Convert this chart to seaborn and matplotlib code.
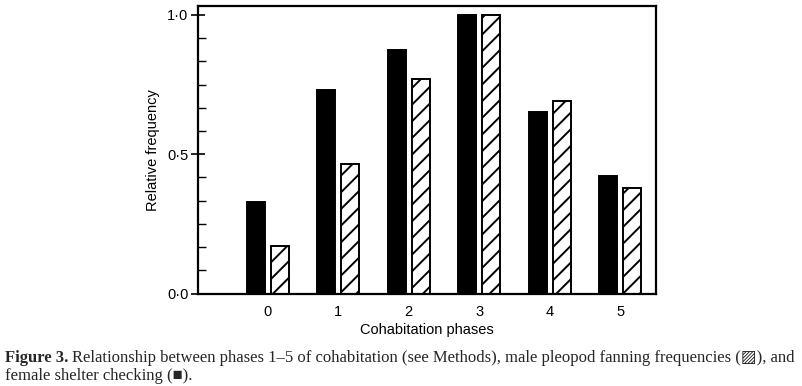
import matplotlib
matplotlib.use("Agg")
import matplotlib.pyplot as plt
import seaborn as sns
import pandas as pd
from matplotlib.ticker import MultipleLocator, FixedLocator, FixedFormatter

phases = ["0", "1", "2", "3", "4", "5"]
female_shelter_checking = [0.33, 0.73, 0.875, 1.0, 0.65, 0.42]
male_pleopod_fanning = [0.17, 0.465, 0.77, 1.0, 0.69, 0.38]
series_names = ["Female shelter checking", "Male pleopod fanning"]
ytick_values = [0.0, 0.5, 1.0]
ytick_labels = ["0\u00b70", "0\u00b75", "1\u00b70"]

df = pd.DataFrame({
    "phase": phases * 2,
    "freq": female_shelter_checking + male_pleopod_fanning,
    "series": [series_names[0]] * len(phases) + [series_names[1]] * len(phases),
})

sns.set_theme(style="white")
plt.rcParams["font.family"] = ["Liberation Sans", "DejaVu Sans"]
plt.rcParams["hatch.linewidth"] = 1.4
plt.rcParams["hatch.color"] = "black"

fig = plt.figure(figsize=(8.03, 3.86), dpi=100)
ax = fig.add_axes([198 / 803, 1 - 293.5 / 386, (656 - 198) / 803, (293.5 - 6) / 386])

sns.barplot(data=df, x="phase", y="freq", hue="series", order=phases,
            hue_order=series_names, palette=["black", "white"],
            width=0.68, gap=0.25, edgecolor="black", linewidth=1.4,
            saturation=1, legend=False, ax=ax)

for patch in ax.containers[1]:
    patch.set_hatch("//")
    patch.set_facecolor("white")
    patch.set_edgecolor("black")

ax.set_xlim(-0.99, 5.51)
ax.set_ylim(0, 1.032)

for sp in ax.spines.values():
    sp.set_visible(True)
    sp.set_color("black")
    sp.set_linewidth(1.6)

ax.yaxis.set_major_locator(FixedLocator(ytick_values))
ax.yaxis.set_major_formatter(FixedFormatter(ytick_labels))
ax.yaxis.set_minor_locator(MultipleLocator(1 / 12))
ax.tick_params(axis="y", which="major", direction="inout", length=10, width=1.2,
               labelsize=10.5, pad=2, left=True, colors="black")
ax.tick_params(axis="y", which="minor", direction="in", length=6, width=1.0,
               left=True, colors="black")
ax.tick_params(axis="x", which="both", length=0, labelsize=10.5, pad=8, colors="black")

ax.set_xlabel("Cohabitation phases", fontsize=10.5, labelpad=3, color="black")
ax.set_ylabel("Relative frequency", fontsize=10.5, labelpad=5, color="black")

# caption
serif = ["Liberation Serif", "DejaVu Serif", "DejaVu Sans"]
fs = 12.0
t1 = fig.text(5 / 803, 1 - 362 / 386, "Figure 3.", fontsize=fs, fontweight="bold",
              family=serif, ha="left", va="baseline")
fig.canvas.draw()
bb = t1.get_window_extent()
x_after = (bb.x1 + 4) / 803
fig.text(x_after, 1 - 362 / 386,
         "Relationship between phases 1\u20135 of cohabitation (see Methods), male pleopod fanning frequencies (\u25a8), and",
         fontsize=fs, family=serif, ha="left", va="baseline")
fig.text(5 / 803, 1 - 380 / 386, "female shelter checking (\u25a0).",
         fontsize=fs, family=serif, ha="left", va="baseline")

fig.savefig("out.png", dpi=100)
